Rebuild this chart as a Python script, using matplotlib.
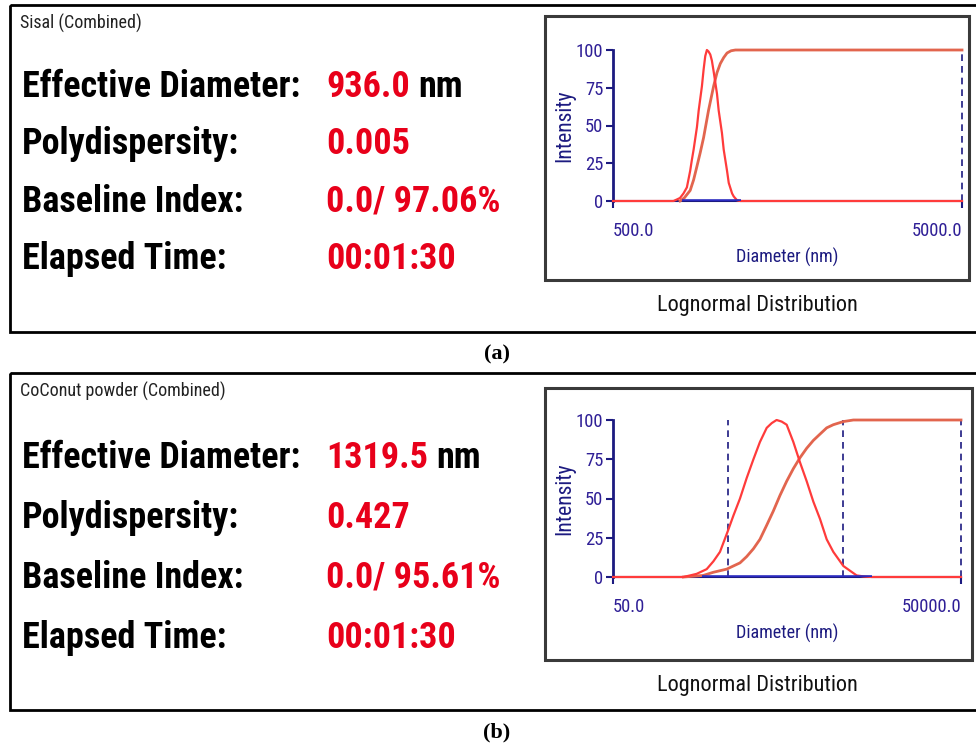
import numpy as np
import matplotlib.pyplot as plt
from matplotlib import font_manager as fm
from matplotlib.patches import Rectangle
from matplotlib.ticker import NullLocator, FixedLocator

# values
rows = ['Effective Diameter:', 'Polydispersity:', 'Baseline Index:', 'Elapsed Time:']
sisal_vals = ['936.0', '0.005', '0.0/ 97.06%', '00:01:30']
coco_vals = ['1319.5', '0.427', '0.0/ 95.61%', '00:01:30']
titles = ['Sisal (Combined)', 'CoConut powder (Combined)']
panel_tags = ['(a)', '(b)']

# sisal, 500 - 5000 nm
sisal_xlim = [500, 5000]
sisal_dens_d = [500, 745, 762, 778, 796, 814, 832, 841, 851, 870, 880, 899, 909, 919, 929,
                939, 950, 960, 971, 993, 1004, 1026, 1038, 1061, 1073, 1097, 1109, 1133, 1159, 5000]
sisal_dens_i = [0, 0, 1, 2, 5, 9, 20, 27, 34, 49, 60, 76, 87, 96, 100,
                99, 97, 93, 86, 71, 60, 45, 34, 20, 12, 5, 3, 0.5, 0, 0]
sisal_cum_d = [778, 800, 832, 851, 870, 889, 909, 939, 971, 993, 1015, 1038, 1061, 1090, 1121, 5000]
sisal_cum_i = [0, 2, 7, 14, 23, 32, 42, 60, 76, 85, 91, 95, 98, 99.5, 100, 100]
sisal_base = [790, 1165]
sisal_dash = [5000]

# coconut powder, 50 - 50000 nm
coco_xlim = [50, 50000]
coco_dens_d = [50, 202, 231, 263, 321, 367, 418, 487, 545, 622, 710, 812, 924, 1057, 1167, 1286,
               1422, 1571, 1793, 2047, 2337, 2667, 3043, 3476, 3965, 4840, 5520, 6300, 7190, 8500, 50000]
coco_dens_i = [0, 0, 1, 2, 5, 10, 16, 29, 39, 50, 63, 75, 86, 95, 98, 100,
               99, 97, 86, 73, 61, 48, 37, 24, 16, 7, 4, 1, 0.4, 0, 0]
coco_cum_d = [202, 300, 366, 477, 622, 710, 812, 924, 1057, 1205, 1376, 1571, 1793, 2047, 2337,
              2667, 3043, 3476, 3965, 4840, 5900, 50000]
coco_cum_i = [0, 1, 3, 5, 9, 13, 18, 24, 33, 42, 52, 61, 69, 76, 82,
              87, 91, 95, 97, 99, 100, 100]
coco_base = [290, 8500]
coco_dash = [490, 4840, 50000]

names = {f.name for f in fm.fontManager.ttflist}
narrow = 'Liberation Sans'
for cand in ['Liberation Sans Narrow', 'Roboto Condensed', 'Open Sans Condensed', 'DejaVu Sans Condensed']:
    if cand in names:
        narrow = cand
        break
fam = [narrow, 'DejaVu Sans']
navy = '#1c1a80'
tick_c = '#2f1f96'

W, H = 976, 746
fig = plt.figure(figsize=(W / 100, H / 100), dpi=100)
bg = fig.add_axes([0, 0, 1, 1])
bg.set_xlim(0, W)
bg.set_ylim(H, 0)
bg.axis('off')
rend = fig.canvas.get_renderer()


def fit_size(s, width, size, **kw):
    # shrink the font size so the text spans about the same width as in the picture
    t = fig.text(0, 0, s, family=fam, fontsize=size, **kw)
    w = t.get_window_extent(rend).width
    t.remove()
    return min(size, size * width / w)


big = fit_size('Effective Diameter:', 281, 26, weight='bold')
small = fit_size('Sisal (Combined)', 127, 13)
foot = fit_size('Lognormal Distribution', 201, 17.5)
xlab = fit_size('Diameter (nm)', 103, 13.5)
tsize = fit_size('500.0', 42, 14)


def panel(top, bottom, title, vals, tag, box, ax_box, xlim, dens, cum, base, dashes, row_y):
    bg.add_patch(Rectangle((10, top), 980, bottom - top, fill=False, ec='black', lw=2))
    bg.text(20, top + 18, title, family=fam, fontsize=small, va='center', color='#222222')
    for i, r in enumerate(rows):
        y = row_y[i]
        bg.text(22, y, r, family=fam, fontsize=big, weight='bold', va='baseline')
        t = bg.text(326, y, vals[i], family=fam, fontsize=big, weight='bold', va='baseline',
                    color='#e8001a')
        if i == 0:
            ext = t.get_window_extent(rend)
            bg.text(ext.x1 + 8, y, 'nm', family=fam, fontsize=big, weight='bold', va='baseline')
    bg.text(497, bottom + 22, tag, family='Liberation Serif', fontsize=16, weight='bold',
            ha='center', va='center')

    # inner chart frame
    bx0, by0, bx1, by1 = box
    bg.add_patch(Rectangle((bx0, by0), bx1 - bx0, by1 - by0, fill=False, ec='#3a3a3a', lw=2.2))
    x0, y0, x1, y1 = ax_box
    bg.text(565, (y0 + y1) / 2, 'Intensity', family=fam, fontsize=15.5, rotation=90,
            ha='center', va='center', color=navy)
    bg.text(787, y1 + 56, 'Diameter (nm)', family=fam, fontsize=xlab, ha='center', va='center',
            color=navy)
    bg.text(757, by1 + 26, 'Lognormal Distribution', family=fam, fontsize=foot,
            ha='center', va='center', color='#111111')

    ax = fig.add_axes([x0 / W, 1 - y1 / H, (x1 - x0) / W, (y1 - y0) / H])
    ax.set_xscale('log')
    ax.set_xlim(xlim)
    ax.set_ylim(0, 100)
    ax.patch.set_alpha(0)
    for s in ['top', 'right']:
        ax.spines[s].set_visible(False)
    ax.spines['left'].set_color(navy)
    ax.spines['left'].set_linewidth(2)
    ax.spines['bottom'].set_color(navy)
    ax.spines['bottom'].set_linewidth(1.5)

    for d in dashes:
        ax.plot([d, d], [0, 100], color=navy, lw=1.2, ls=(0, (4, 3)), clip_on=False)
    ax.plot(cum[0], cum[1], color='#e2654e', lw=2.0, clip_on=False, zorder=3)
    ax.plot(dens[0], dens[1], color='#ff3b3b', lw=1.6, clip_on=False, zorder=3)
    ax.plot(base, [0, 0], color='#2b2bc0', lw=2.6, zorder=4, solid_capstyle='butt')

    ax.yaxis.set_major_locator(FixedLocator([0, 25, 50, 75, 100]))
    ax.xaxis.set_major_locator(FixedLocator(xlim))
    ax.xaxis.set_minor_locator(NullLocator())
    ax.set_xticklabels([f'{v:.1f}' for v in xlim])
    labs = ax.get_xticklabels()
    labs[0].set_ha('left')
    labs[1].set_ha('right')
    ax.tick_params(axis='y', colors=navy, labelcolor=tick_c, length=5, width=1.5, pad=2,
                   labelsize=tsize)
    ax.tick_params(axis='x', colors=navy, labelcolor=tick_c, length=5, width=1.5, pad=10,
                   labelsize=tsize)
    for lab in ax.get_xticklabels() + ax.get_yticklabels():
        lab.set_family(fam)
    return ax


panel(5, 332, titles[0], sisal_vals, panel_tags[0], (545, 16, 969, 280), (613, 50, 962, 201),
      sisal_xlim, (sisal_dens_d, sisal_dens_i), (sisal_cum_d, sisal_cum_i), sisal_base, sisal_dash,
      [97, 154, 212, 269])
panel(373, 710, titles[1], coco_vals, panel_tags[1], (545, 388, 972, 660), (613, 420, 961, 577),
      coco_xlim, (coco_dens_d, coco_dens_i), (coco_cum_d, coco_cum_i), coco_base, coco_dash,
      [468, 528, 588, 648])

fig.savefig('out.png', dpi=100)
